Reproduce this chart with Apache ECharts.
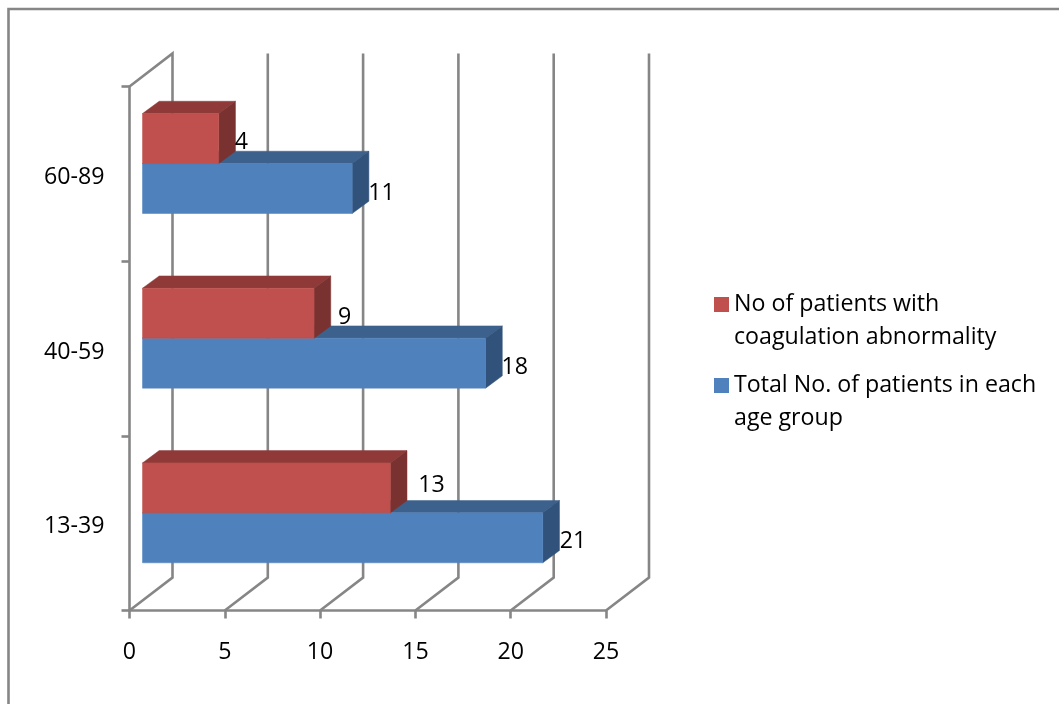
<!DOCTYPE html>
<html>
<head>
<meta charset="utf-8">
<title>Coagulation abnormality by age group</title>
<script src="https://cdn.jsdelivr.net/npm/echarts@6/dist/echarts.min.js"></script>
<style>
  html, body { margin: 0; padding: 0; background: #fff; overflow: hidden; }
  #chart { width: 1059px; height: 704px; }
</style>
</head>
<body>
<div id="chart"></div>
<script>
// Age groups, bottom to top
const ageGroups = ['13-39', '40-59', '60-89'];
const coagulationCounts = [13, 9, 4];
const totalCounts = [21, 18, 11];
const valueTicks = [0, 5, 10, 15, 20, 25];

const coagulationName = 'No of patients with\ncoagulation abnormality';
const totalName = 'Total No. of patients in each\nage group';

// Oblique projection: back wall, bar plane and bar depth, in pixels
const WALL = { x: 43, y: -33 };
const BAR_PLANE = { x: 13, y: -10.3 };
const BAR_DEPTH = { x: 16.7, y: -12.3 };
const BAR_BAND_SHARE = 0.286;

// Space between a bar's end and its value label
const coagulationLabelShift = [{ x: 28, y: -2 }, { x: 24, y: 4 }, { x: 16, y: 4 }];
const totalLabelShift = [{ x: 17, y: 4 }, { x: 16, y: 4 }, { x: 16, y: 5 }];

const FONT_FAMILY = '"Open Sans"';
const FONT_SIZE = 23.2;
const AXIS_COLOR = '#868686';
const AXIS_WIDTH = 2.6;

const poly = (points, fill) => ({
  type: 'polygon',
  shape: { points },
  style: { fill, stroke: fill, lineWidth: 0.5 }
});

// One box: the band is split in two, with side -1 above the centre and +1 below it
function boxRenderer(side, colors, shifts) {
  return function (params, api) {
    const value = api.value(0);
    const catIndex = api.value(1);
    const bandHeight = api.size([0, 1])[1];
    const faceHeight = bandHeight * BAR_BAND_SHARE;
    const start = api.coord([0, catIndex]);
    const end = api.coord([value, catIndex]);
    const x0 = start[0] + BAR_PLANE.x;
    const x1 = end[0] + BAR_PLANE.x;
    const mid = start[1] + BAR_PLANE.y;
    const yTop = side < 0 ? mid - faceHeight : mid;
    const yBottom = side < 0 ? mid : mid + faceHeight;
    const dx = BAR_DEPTH.x;
    const dy = BAR_DEPTH.y;
    const shift = shifts[catIndex];
    return {
      type: 'group',
      children: [
        poly([[x0, yTop], [x1, yTop], [x1 + dx, yTop + dy], [x0 + dx, yTop + dy]], colors.top),
        poly([[x1, yTop], [x1 + dx, yTop + dy], [x1 + dx, yBottom + dy], [x1, yBottom]], colors.side),
        poly([[x0, yTop], [x1, yTop], [x1, yBottom], [x0, yBottom]], colors.face),
        {
          type: 'text',
          style: {
            text: String(value),
            x: x1 + shift.x,
            y: (yTop + yBottom) / 2 + shift.y,
            fill: '#000',
            font: FONT_SIZE + 'px ' + FONT_FAMILY,
            textAlign: 'left',
            textVerticalAlign: 'middle'
          }
        }
      ]
    };
  };
}

// Gridlines run across the floor to the back wall, then up it
function wallRenderer(params, api) {
  const tick = api.value(0);
  const sys = params.coordSys;
  const x = api.coord([tick, 0])[0];
  const floor = sys.y + sys.height;
  const points = [[x, floor], [x + WALL.x, floor + WALL.y], [x + WALL.x, sys.y + WALL.y]];
  if (tick === valueTicks[0]) {
    points.push([x, sys.y]);
  }
  return {
    type: 'polyline',
    shape: { points },
    style: { stroke: AXIS_COLOR, lineWidth: AXIS_WIDTH, fill: 'none' }
  };
}

const chart = echarts.init(document.getElementById('chart'), null, { renderer: 'canvas' });

chart.setOption({
  animation: false,
  backgroundColor: '#fff',
  textStyle: { fontFamily: FONT_FAMILY, fontSize: FONT_SIZE, color: '#000' },
  grid: { left: 129.5, top: 86.5, width: 476.5, height: 524, containLabel: false },
  xAxis: {
    type: 'value',
    min: 0,
    max: 25,
    interval: 5,
    axisLine: { show: true, onZero: false, lineStyle: { color: AXIS_COLOR, width: AXIS_WIDTH } },
    axisTick: { show: true, length: 8, lineStyle: { color: AXIS_COLOR, width: AXIS_WIDTH } },
    axisLabel: { margin: 30, color: '#000', fontFamily: FONT_FAMILY, fontSize: FONT_SIZE },
    splitLine: { show: false }
  },
  yAxis: {
    type: 'category',
    data: ageGroups,
    axisLine: { show: true, onZero: false, lineStyle: { color: AXIS_COLOR, width: AXIS_WIDTH } },
    axisTick: { show: true, length: 8, lineStyle: { color: AXIS_COLOR, width: AXIS_WIDTH } },
    axisLabel: {
      margin: 25,
      color: '#000',
      formatter: '{age|{value}}',
      rich: {
        age: { padding: [7, 0, 0, 0], color: '#000', fontFamily: FONT_FAMILY, fontSize: FONT_SIZE }
      }
    },
    splitLine: { show: false }
  },
  legend: {
    orient: 'vertical',
    left: 714,
    top: 288,
    padding: 0,
    itemGap: 15,
    itemWidth: 15,
    itemHeight: 48,
    selectedMode: false,
    // The swatch sits beside the first line of each two-line entry
    icon: 'path://M0,0L15,0L15,15L0,15Z M0,48L0,48',
    textStyle: { fontFamily: FONT_FAMILY, fontSize: FONT_SIZE, color: '#000', lineHeight: 33 },
    data: [coagulationName, totalName]
  },
  graphic: [{
    type: 'polyline',
    silent: true,
    shape: { points: [[8.5, 720], [8.5, 9], [1080, 9]] },
    style: { stroke: AXIS_COLOR, lineWidth: AXIS_WIDTH, fill: 'none' }
  }],
  series: [
    {
      type: 'custom',
      name: 'walls',
      silent: true,
      z: 1,
      coordinateSystem: 'cartesian2d',
      encode: { x: 0, y: 1 },
      data: valueTicks.map((t) => [t, 0]),
      renderItem: wallRenderer
    },
    {
      type: 'custom',
      name: totalName,
      z: 2,
      coordinateSystem: 'cartesian2d',
      encode: { x: 0, y: 1 },
      itemStyle: { color: '#4F81BD' },
      data: totalCounts.map((v, i) => [v, i]),
      renderItem: boxRenderer(1, { face: '#4F81BD', top: '#3C618D', side: '#31527B' }, totalLabelShift)
    },
    {
      type: 'custom',
      name: coagulationName,
      z: 3,
      coordinateSystem: 'cartesian2d',
      encode: { x: 0, y: 1 },
      itemStyle: { color: '#C0504D' },
      data: coagulationCounts.map((v, i) => [v, i]),
      renderItem: boxRenderer(-1, { face: '#C0504D', top: '#8F3A38', side: '#7A3230' }, coagulationLabelShift)
    }
  ]
});
</script>
</body>
</html>
